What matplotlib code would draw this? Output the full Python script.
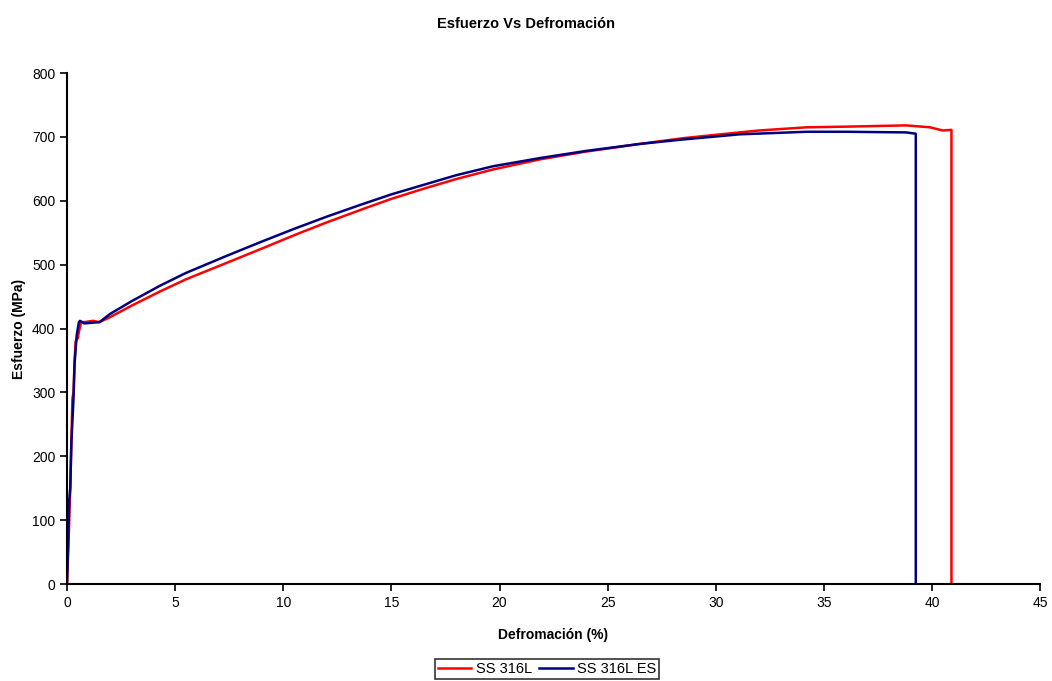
import matplotlib
matplotlib.use("Agg")
import matplotlib.pyplot as plt

plt.rcParams['font.family'] = ['Liberation Sans', 'DejaVu Sans']

# Deformación (%) y esfuerzo (MPa) de cada probeta
def_316l = [0, 0.03, 0.08, 0.12, 0.15, 0.2, 0.25, 0.3, 0.35, 0.4, 0.5, 0.55, 0.65, 0.8, 1.2, 1.5,
            2, 3, 4.3, 5.5, 7.4, 9, 10.5, 12, 13.6, 15, 16.6, 18, 19.7, 21.9, 24, 26.5, 28.5,
            31.1, 32, 34.2, 36, 38.8, 39.9, 40.5, 40.9, 40.9]
esf_316l = [0, 30, 75, 120, 150, 220, 290, 300, 350, 380, 385, 395, 410, 410, 412, 410,
            418, 436, 458, 477, 503, 525, 546, 566, 586, 603, 620, 634, 649, 665, 677, 689, 698,
            707, 710, 715, 716, 718, 715, 710, 711, 0]

def_316l_es = [0, 0.05, 0.1, 0.15, 0.2, 0.3, 0.35, 0.45, 0.55, 0.6, 0.8, 1.5,
               2, 3, 4.3, 5.5, 7.4, 9, 10.5, 12, 13.6, 15, 16.6, 18, 19.7, 21.9, 24, 26.5,
               28.5, 31.1, 34.2, 36, 38.8, 39.25, 39.25]
esf_316l_es = [0, 60, 130, 150, 220, 290, 345, 390, 410, 412, 408, 410,
               423, 443, 467, 487, 514, 536, 556, 575, 594, 610, 626, 640, 654, 667, 678, 689,
               696, 704, 708, 708, 707, 705, 0]

fig = plt.figure(figsize=(10.52, 6.81), dpi=100)
ax = fig.add_axes([0.0637, 0.1424, 0.925, 0.7504])

ax.plot(def_316l, esf_316l, color='#ff0000', lw=1.8, label='SS 316L')
ax.plot(def_316l_es, esf_316l_es, color='#000080', lw=1.8, label='SS 316L ES')

ax.set_xlim(0, 45)
ax.set_ylim(0, 800)
ax.set_xticks(range(0, 46, 5))
ax.set_yticks(range(0, 801, 100))
ax.spines['top'].set_visible(False)
ax.spines['right'].set_visible(False)
ax.spines['left'].set_linewidth(1.5)
ax.spines['bottom'].set_linewidth(1.5)
ax.tick_params(direction='out', length=5, width=1.2, labelsize=10)

ax.set_xlabel('Defromación (%)', fontsize=10, fontweight='bold', labelpad=13)
ax.set_ylabel('Esfuerzo (MPa)', fontsize=10, fontweight='bold', labelpad=4)
fig.suptitle('Esfuerzo Vs Defromación', fontsize=10.5, fontweight='bold', y=0.975)

leg = fig.legend(loc='center', bbox_to_anchor=(0.520, 0.018), ncol=2, fontsize=10.5,
                 frameon=True, fancybox=False, edgecolor='black', handlelength=2.3,
                 handletextpad=0.3, columnspacing=0.5, borderpad=0.2, borderaxespad=0)
leg.get_frame().set_linewidth(1.2)

fig.savefig('out.png', dpi=100)
